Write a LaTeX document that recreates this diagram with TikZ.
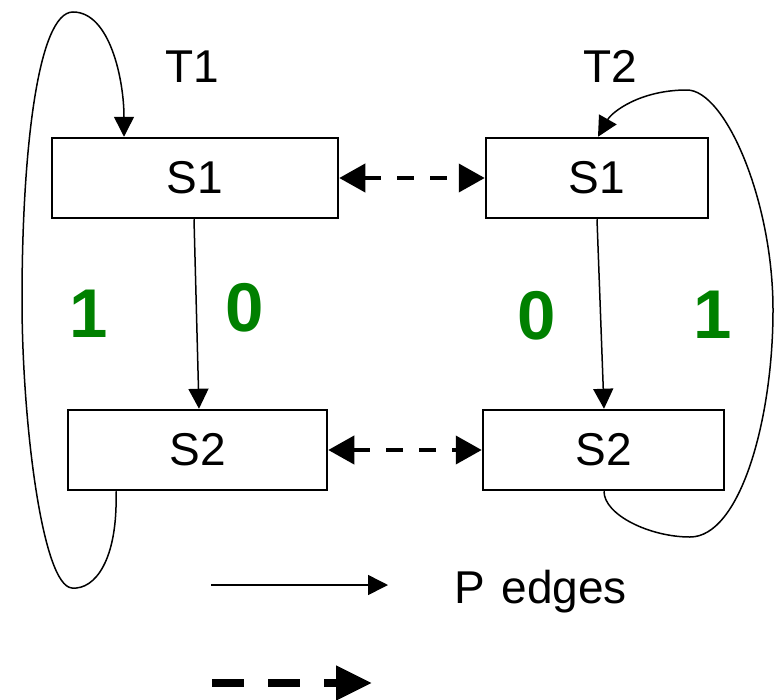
\documentclass[tikz,border=0pt]{standalone}
\usepackage{fontspec}
\setmainfont{Liberation Sans}
\usetikzlibrary{arrows.meta}
\definecolor{labelgreen}{RGB}{0,128,0}
\begin{document}
\begin{tikzpicture}[x=1pt,y=-1pt,
  state/.style={draw,line width=2.5pt,minimum height=80pt,inner sep=0pt,font=\fontsize{46}{50}\selectfont},
  title/.style={font=\fontsize{46}{50}\selectfont,inner sep=0pt,anchor=base},
  bit/.style={font=\fontsize{69}{72}\selectfont\bfseries,text=labelgreen,inner sep=0pt,anchor=base},
  pedge/.style={line width=1.5pt,-{Triangle[length=20pt,width=20pt]}},
  sync/.style={line width=4pt,dash pattern=on 17pt off 16pt,
    {Triangle[length=26pt,width=28pt]}-{Triangle[length=26pt,width=28pt]}},
  legendsync/.style={line width=8pt,dash pattern=on 32pt off 24pt,-{Triangle[length=36pt,width=33pt]}}]
  \useasboundingbox (0,0) rectangle (781,699);

  % states of T1 and T2
  \node[state,minimum width=286pt] (a1) at (195,178) {S1};
  \node[state,minimum width=259pt] (a2) at (197.5,450) {S2};
  \node[state,minimum width=222pt] (b1) at (597,178) {S1};
  \node[state,minimum width=241pt] (b2) at (603.5,450) {S2};

  % thread names
  \node[title] (t1) at (192,82) {T1};
  \node[title] (t2) at (610,82) {T2};

  % transition labels
  \node[bit] (l1) at (88.5,337) {1};
  \node[bit] (l0) at (245,331) {0};
  \node[bit] (r0) at (537,339) {0};
  \node[bit] (r1) at (712.5,338) {1};

  % transitions on 0
  \draw[pedge] ([xshift=-1pt]a1.south) -- ([xshift=1.5pt]a2.north);
  \draw[pedge] (b1.south) -- ([xshift=0.5pt]b2.north);

  % transitions on 1 looping back to S1
  \draw[pedge] ([xshift=-81.5pt]a2.south)
    .. controls (118,560) and (95,590) .. (72,588)
    .. controls (42,586) and (22,420) .. (22,300)
    .. controls (22,150) and (38,12) .. (73,12)
    .. controls (110,12) and (124,80) .. ([xshift=-71pt]a1.north);
  \draw[pedge] ([xshift=0.5pt]b2.south)
    .. controls (604,515) and (650,537) .. (690,537)
    .. controls (740,537) and (773,420) .. (773,310)
    .. controls (773,200) and (725,90) .. (687,90)
    .. controls (640,90) and (612,112) .. ([xshift=1pt]b1.north);

  % correspondences between the two threads
  \draw[sync] (a1.east) -- (b1.west);
  \draw[sync] (a2.east) -- (b2.west);

  % legend
  \coordinate (ps) at (211,585);
  \coordinate (pe) at (388,585);
  \coordinate (ss) at (212,683);
  \coordinate (se) at (372,683);
  \draw[pedge] (ps) -- (pe);
  \draw[legendsync] (ss) -- (se);
  \node[font=\fontsize{46}{50}\selectfont,inner sep=0pt,anchor=base west] (ptext) at (454,603) {P\kern4pt\ edges};
\end{tikzpicture}
\end{document}
